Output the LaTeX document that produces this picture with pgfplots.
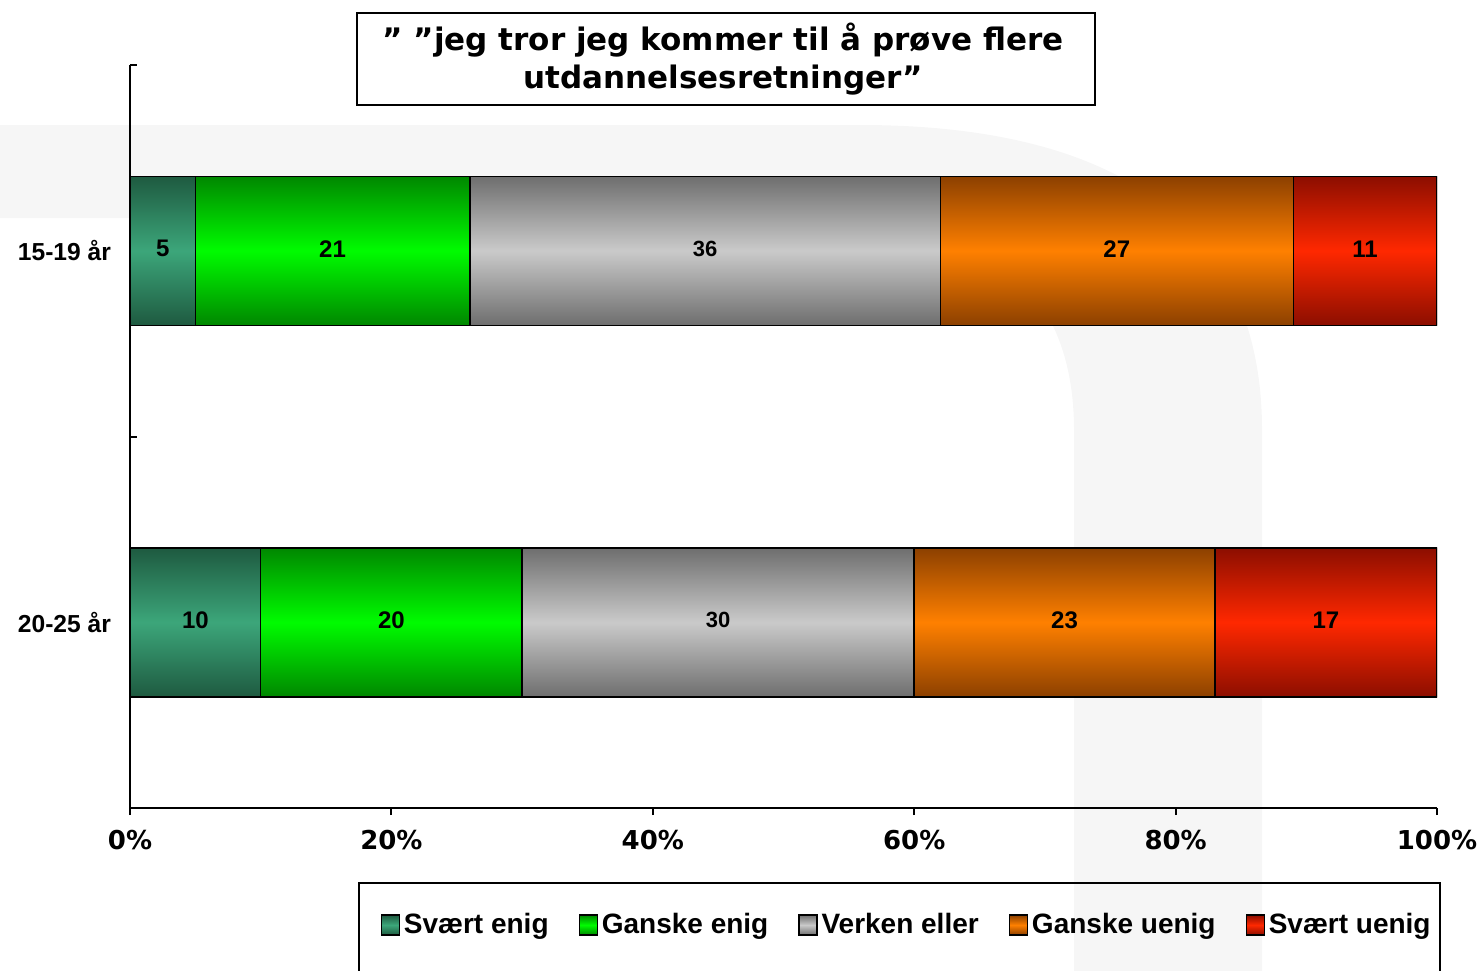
\documentclass[border=0pt]{standalone}
\usepackage{fontspec}
\setmainfont{Liberation Sans}
\newfontfamily\dvs{DejaVu Sans}
\usepackage{pgfplots}
\pgfplotsset{compat=1.18}

% segment colours: dark edge / bright middle of the gradient
\definecolor{seD}{RGB}{30,90,64}
\definecolor{seM}{RGB}{60,166,122}
\definecolor{geD}{RGB}{0,135,0}
\definecolor{geM}{RGB}{0,252,0}
\definecolor{veD}{RGB}{110,110,110}
\definecolor{veM}{RGB}{202,202,202}
\definecolor{guD}{RGB}{140,64,0}
\definecolor{guM}{RGB}{255,128,0}
\definecolor{suD}{RGB}{140,14,0}
\definecolor{suM}{RGB}{255,40,0}
\definecolor{wmark}{RGB}{246,246,246}
\colorlet{tbD}{black}
\colorlet{tbM}{white}

% one plot path holds both bars, so the shading has a dark-bright-dark band
% for each bar (path box maps onto 25bp..75bp)
\pgfdeclareverticalshading[tbD,tbM]{twobar}{100bp}{color(0bp)=(tbD); color(25bp)=(tbD);
  color(32.155bp)=(tbM); color(39.31bp)=(tbD); color(60.69bp)=(tbD);
  color(67.845bp)=(tbM); color(75bp)=(tbD); color(100bp)=(tbD)}

\pgfplotsset{
  seg/.style 2 args={draw=black, line width=0.75pt,
    /utils/exec={\colorlet{tbD}{#1}\colorlet{tbM}{#2}}, shade, shading=twobar},
}

\begin{document}
\begin{tikzpicture}
\useasboundingbox (0,0) rectangle (740.5pt,-485pt);
\clip (0,0) rectangle (740.5pt,-485pt);

% faint watermark shape behind the chart (pixel coordinates)
\begin{scope}[x=0.5pt,y=-0.5pt]
\fill[wmark] (0,125) -- (860,125) .. controls (1150,125) and (1262,250) .. (1262,430)
  -- (1262,980) -- (1074,980) -- (1074,430) .. controls (1074,300) and (1000,218) .. (830,218)
  -- (0,218) -- cycle;
\end{scope}

\begin{axis}[
  at={(65pt,-404pt)}, anchor=south west,
  scale only axis, width=653.5pt, height=371.5pt,
  xbar stacked, bar width=74.5pt,
  xmin=0, xmax=100, ymin=-0.5, ymax=1.5,
  enlargelimits=false,
  axis x line*=bottom, axis y line*=left,
  axis line style={line width=1pt, black},
  tick align=outside, major tick length=3.5pt,
  tick style={line width=1pt, black},
  y tick style={xshift=3.5pt},
  xtick={0,20,40,60,80,100},
  xticklabels={0\%,20\%,40\%,60\%,80\%,100\%},
  xticklabel style={font=\dvs\bfseries\fontsize{13}{15}\selectfont, yshift=-4pt},
  ytick={-0.5,0.5,1.5}, yticklabels={},
  extra y ticks={0,1},
  extra y tick labels={20-25 år,15-19 år},
  extra y tick style={major tick length=0pt,
    yticklabel style={font=\bfseries\fontsize{12.3}{14}\selectfont, xshift=-6pt}},
  visualization depends on=rawx \as \rawx,
  nodes near coords={\pgfmathprintnumber[assume math mode=true]{\rawx}},
  nodes near coords align={center},
  every node near coord/.append style={/tikz/anchor=center, /tikz/yshift=1pt,
    /tikz/font=\bfseries\fontsize{12}{14}\selectfont, /tikz/text=black},
  legend columns=5,
  legend style={draw=none, fill=none, at={(0.595,-0.1575)}, anchor=center,
    font=\bfseries\fontsize{14}{16}\selectfont,
    nodes={inner sep=2pt},
    /tikz/every even column/.append style={column sep=13pt}},
  legend image code/.code={\draw[#1, line width=0.6pt, top color=tbD, bottom color=tbD,
    middle color=tbM] (0pt,-5pt) rectangle (9pt,5pt);},
]
\addplot[seg={seD}{seM}] coordinates {(10,0) (5,1)};
\addplot[seg={geD}{geM}] coordinates {(20,0) (21,1)};
\addplot[seg={veD}{veM},
  every node near coord/.append style={/tikz/font=\bfseries\fontsize{11}{13}\selectfont}]
  coordinates {(30,0) (36,1)};
\addplot[seg={guD}{guM}] coordinates {(23,0) (27,1)};
\addplot[seg={suD}{suM}] coordinates {(17,0) (11,1)};
\legend{Svært enig, Ganske enig, Verken eller, Ganske uenig, Svært uenig}
\end{axis}

\begin{scope}[x=0.5pt,y=-0.5pt]
% title box
\draw[line width=1pt] (357,13) rectangle (1095,105);
\node[align=center, font=\dvs\bfseries\fontsize{15.5}{19}\selectfont, inner sep=0pt]
  at (723,59) {” ”jeg tror jeg kommer til å prøve flere\\utdannelsesretninger”};
% legend frame (bottom edge falls outside the picture)
\draw[line width=1pt] (359,883) rectangle (1440,1010);
\end{scope}
\end{tikzpicture}
\end{document}
